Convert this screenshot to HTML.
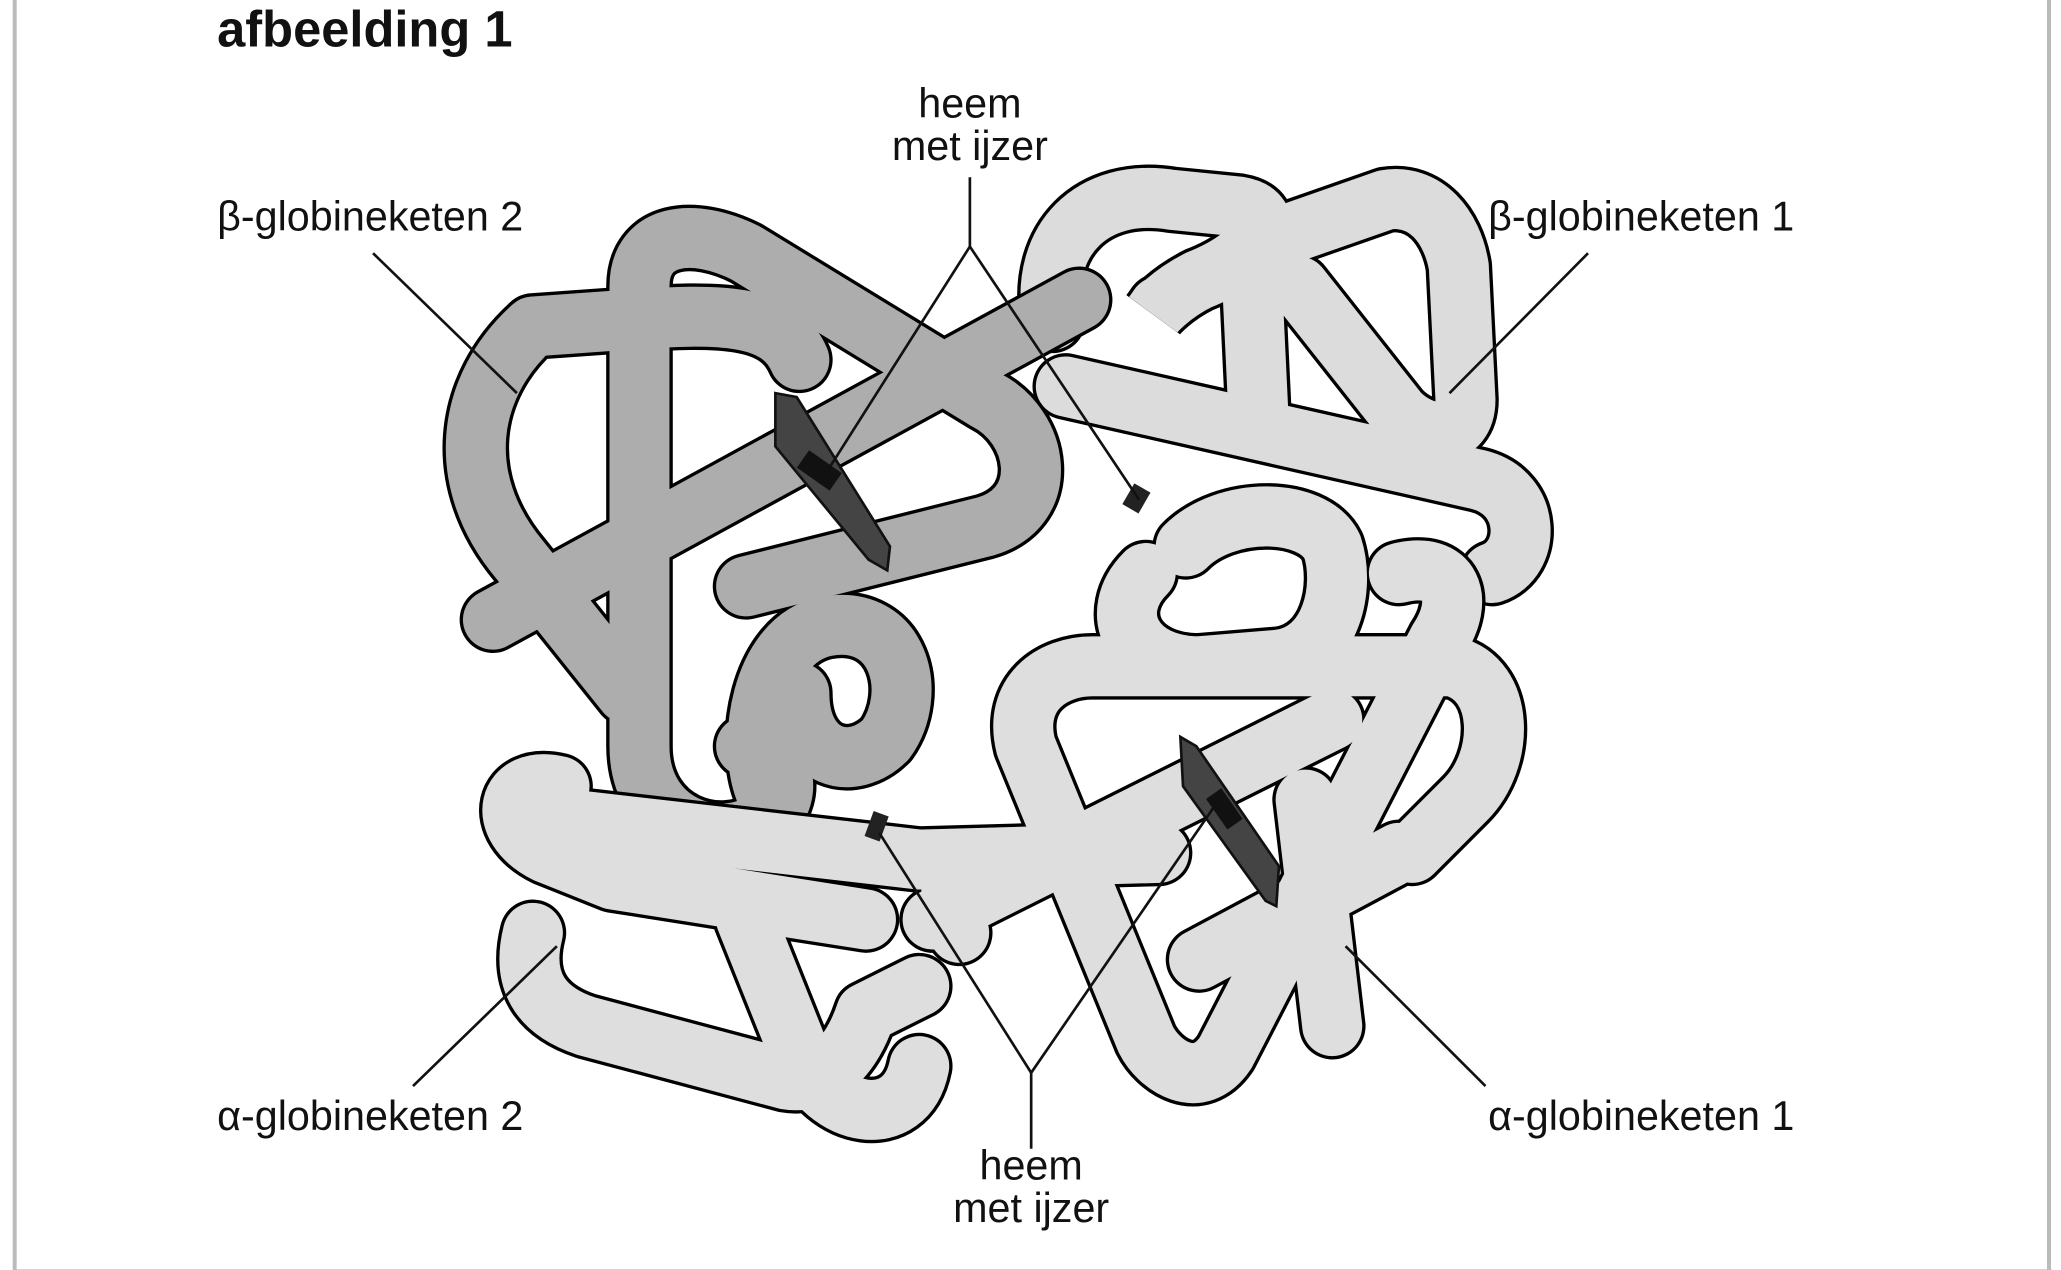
<!DOCTYPE html>
<html><head><meta charset="utf-8"><style>
html,body{margin:0;padding:0;background:#fff;width:2061px;height:1270px;overflow:hidden}
svg{display:block}
text{font-family:"Liberation Sans",sans-serif;fill:#111}
</style></head><body>
<svg width="2061" height="1270" viewBox="0 0 1547 953" preserveAspectRatio="none">
<rect x="0" y="0" width="1547" height="953" fill="#fff"/>
<line x1="11" y1="0" x2="11" y2="955" stroke="#bbb" stroke-width="3"/>
<line x1="1538" y1="0" x2="1538" y2="955" stroke="#bbb" stroke-width="3"/>
<line x1="10" y1="954" x2="1540" y2="954" stroke="#bbb" stroke-width="3"/>
<text x="163" y="35" font-size="38" font-weight="bold">afbeelding 1</text>

<defs>
<g id="b1" fill="none" stroke-linecap="round" stroke-linejoin="round">
<path d="M800 290 L1110 360 C1150 370 1150 420 1120 430 M790 240 C780 180 820 140 880 150 L930 155 C960 160 950 190 900 210 C870 225 860 245 870 230 M940 185 L1040 150 C1070 145 1090 170 1095 200 L1100 300 C1100 330 1070 330 1050 310 L975 215 M940 215 L945 320" />
</g>
<g id="d1" fill="none" stroke-linecap="round" stroke-linejoin="round">
<path d="M370 465 L810 225"/>
<path d="M600 270 C585 235 540 235 470 240 L400 245 C350 290 340 360 390 420 L470 520"/>
<path d="M560 440 L740 395 C790 380 780 320 740 300 L560 190 C520 170 480 175 480 215 L480 560 C480 620 540 640 575 615 C600 595 585 560 560 560"/>
<path d="M575 595 C560 560 570 480 620 470 C675 460 690 520 665 555 C640 580 600 570 600 520"/>
</g>
<g id="l1" fill="none" stroke-linecap="round" stroke-linejoin="round">
<path d="M385 610 L690 645 L870 640"/>
<path d="M860 430 C830 460 850 500 900 500 L960 495 C1000 490 1010 440 1000 410 C985 380 920 380 890 410 M1050 430 C1090 420 1100 450 1080 480 L920 790 C900 820 870 800 860 780 L770 560 C760 520 790 500 820 500 L1090 500 C1130 510 1130 570 1100 600 L1060 640"/>
<path d="M700 690 L1000 540 M720 700 C700 660 730 640 760 645 M900 720 L1050 640 M980 600 L1000 770"/>
<path d="M420 590 C380 580 370 620 410 640 L460 660 L650 690 M400 700 C390 740 410 760 440 770 L590 810 C620 815 640 790 650 760 L690 740 M560 690 L600 790 C620 840 680 850 690 800"/>
</g>
</defs>
<use href="#b1" stroke="#000" stroke-width="50"/>
<use href="#b1" stroke="#dcdcdc" stroke-width="45"/>
<use href="#d1" stroke="#000" stroke-width="50"/>
<use href="#d1" stroke="#adadad" stroke-width="45"/>
<use href="#l1" stroke="#000" stroke-width="50"/>
<use href="#l1" stroke="#dedede" stroke-width="45"/>

<polygon points="582,295 598,298 668,410 666,428 652,420 582,335" fill="#444" stroke="#111" stroke-width="2"/>
<rect x="600" y="345" width="30" height="16" fill="#111" transform="rotate(35 615 353)"/>
<polygon points="886,553 898,560 960,650 958,680 950,676 888,590" fill="#444" stroke="#111" stroke-width="2"/>
<rect x="905" y="600" width="28" height="14" fill="#111" transform="rotate(55 919 607)"/>
<rect x="846" y="365" width="14" height="18" fill="#222" transform="rotate(30 853 374)"/>
<rect x="652" y="610" width="12" height="20" fill="#222" transform="rotate(20 658 620)"/>

<g stroke="#111" stroke-width="2" fill="none">
<line x1="280" y1="190" x2="388" y2="295"/>
<line x1="1192" y1="190" x2="1088" y2="295"/>
<line x1="310" y1="815" x2="418" y2="710"/>
<line x1="1115" y1="815" x2="1010" y2="710"/>
<polyline points="620,355 728,185 855,375"/>
<line x1="728" y1="133" x2="728" y2="185"/>
<polyline points="660,625 774,805 915,600"/>
<line x1="774" y1="805" x2="774" y2="862"/>
</g>

<g font-size="31">
<text x="163" y="173">β-globineketen 2</text>
<text x="1117" y="173">β-globineketen 1</text>
<text x="163" y="848">α-globineketen 2</text>
<text x="1117" y="848">α-globineketen 1</text>
<text x="728" y="88" text-anchor="middle">heem</text>
<text x="728" y="120" text-anchor="middle">met ijzer</text>
<text x="774" y="885" text-anchor="middle">heem</text>
<text x="774" y="917" text-anchor="middle">met ijzer</text>
</g>
</svg>
</body></html>
